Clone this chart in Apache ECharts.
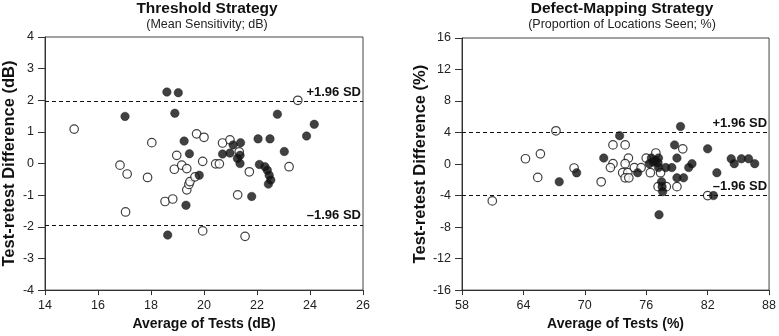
<!DOCTYPE html>
<html>
<head>
<meta charset="utf-8">
<script src="https://cdn.jsdelivr.net/npm/echarts@6/dist/echarts.min.js"></script>
<style>
  html, body { margin: 0; padding: 0; background: #fff; }
  #chart { width: 779px; height: 336px; }
</style>
</head>
<body>
<div id="chart"></div>
<script>
// Threshold strategy (dB): [average, difference]
const thresholdFilled = [
  [18.6, 2.26], [19.03, 2.24], [17.02, 1.49], [18.9, 1.59], [19.25, 0.71],
  [19.45, 0.31], [19.32, -1.32], [18.63, -2.26], [19.82, -0.37], [21.1, 0.59],
  [21.38, 0.66], [20.7, 0.30], [20.98, 0.33], [21.36, 0.26], [21.26, 0.16],
  [21.36, 0.0], [22.04, 0.78], [22.49, 0.78], [22.77, 1.56], [23.03, 0.38],
  [24.16, 1.24], [23.87, 0.87], [22.09, -0.03], [22.3, -0.10], [22.39, -0.21],
  [22.46, -0.37], [22.52, -0.52], [22.43, -0.65], [21.8, -1.04]
];
const thresholdOpen = [
  [15.1, 1.09], [16.83, -0.05], [17.1, -0.33], [17.87, -0.44], [17.04, -1.53],
  [18.53, -1.2], [18.82, -1.12], [18.03, 0.66], [18.97, 0.26], [19.72, 0.94],
  [20.0, 0.83], [18.88, -0.18], [19.16, -0.05], [19.35, -0.16], [19.35, -0.83],
  [19.43, -0.66], [19.47, -0.57], [19.66, -0.42], [19.95, 0.07], [19.95, -2.13],
  [20.44, -0.01], [20.58, -0.01], [20.7, 0.65], [20.98, 0.75], [21.33, 0.37],
  [21.71, -0.26], [21.27, -0.99], [21.55, -2.3], [23.21, -0.10], [23.54, 2.0]
];
const thresholdLimits = [1.96, -1.94];

// Defect-mapping strategy (%): [average, difference]
const defectFilled = [
  [67.5, -2.25], [69.2, -1.12], [79.35, 4.77], [73.4, 3.6], [78.77, 2.43],
  [82.0, 1.93], [71.85, 0.76], [76.5, 0.76], [77.2, 0.76], [79.0, 0.76],
  [84.3, 0.67], [84.6, 0.05], [85.3, 0.67], [86.0, 0.67], [86.6, 0.05],
  [75.16, -1.1], [76.3, 0.05], [76.7, 0.26], [76.9, 0.46], [77.16, 0.13],
  [77.2, -0.45], [77.9, -0.45], [78.5, -0.45], [77.5, -2.25], [77.55, -2.87],
  [77.6, -3.5], [77.25, -6.43], [79.0, -1.75], [79.65, -1.75], [80.15, -0.45],
  [80.47, 0.05], [82.9, -1.1], [82.57, -4.0]
];
const defectOpen = [
  [67.18, 4.22], [64.2, 0.67], [65.66, 1.3], [65.4, -1.7], [68.95, -0.5],
  [60.96, -4.68], [72.75, 2.43], [73.94, 2.43], [79.57, 1.93], [74.26, 0.76],
  [76.0, 0.76], [76.94, 1.4], [72.75, 0.05], [72.5, -0.45], [73.94, 0.05],
  [73.7, -1.1], [74.2, -1.1], [73.94, -1.75], [74.3, -1.75], [71.6, -2.25],
  [74.84, -0.45], [75.5, -0.45], [76.4, -1.1], [77.4, -1.1], [77.16, -2.87],
  [77.96, -2.87], [79.0, -2.87], [82.0, -4.0]
];
const defectLimits = [4.0, -4.0];

const FONT = "Liberation Sans, Arial, sans-serif";
const chart = echarts.init(document.getElementById("chart"));

function xAxis(grid, min, max, step, name) {
  return {
    gridIndex: grid, type: "value", min: min, max: max, interval: step,
    name: name, nameLocation: "middle", nameGap: 16,
    nameTextStyle: { fontFamily: FONT, fontSize: 14, fontWeight: "bold", color: "#111" },
    axisLine: { show: true, onZero: false, lineStyle: { color: "#333", width: 1 } },
    axisTick: { show: true, length: 5, lineStyle: { color: "#333" } },
    axisLabel: { fontFamily: FONT, fontSize: 12.5, color: "#222", margin: 9 },
    splitLine: { show: false }
  };
}
function yAxis(grid, min, max, step, name) {
  return {
    gridIndex: grid, type: "value", min: min, max: max, interval: step,
    name: name, nameLocation: "middle", nameGap: 27,
    nameTextStyle: { fontFamily: FONT, fontSize: 16.5, fontWeight: "bold", color: "#111" },
    axisLine: { show: true, onZero: false, lineStyle: { color: "#333", width: 1 } },
    axisTick: { show: true, length: 7, lineStyle: { color: "#333" } },
    axisLabel: { fontFamily: FONT, fontSize: 12.5, color: "#222", margin: 11 },
    splitLine: { show: false }
  };
}
function limitLines(vals) {
  return {
    silent: true, symbol: "none",
    lineStyle: { color: "#111", type: [4, 3], width: 1.2 },
    label: {
      position: "insideEndTop", fontFamily: FONT, fontSize: 13,
      fontWeight: "bold", color: "#111", distance: [2, 3],
      formatter: (p) => (p.value > 0 ? "+1.96 SD" : "\u20131.96 SD")
    },
    data: vals.map((v) => ({ yAxis: v }))
  };
}
function dots(xi, data, filled, lines) {
  const s = {
    type: "scatter", xAxisIndex: xi, yAxisIndex: xi, data: data,
    symbol: "circle", symbolSize: 8.5, silent: true,
    itemStyle: filled
      ? { color: "#111", borderColor: "#111", borderWidth: 0.5 }
      : { color: "#fff", borderColor: "#111", borderWidth: 1.2 }
  };
  if (lines) s.markLine = limitLines(lines);
  return s;
}

const options = {
  animation: false,
  title: [
    {
      text: "Threshold Strategy", subtext: "(Mean Sensitivity; dB)",
      left: 202, top: -4, textAlign: "center", itemGap: 1,
      textStyle: { fontFamily: FONT, fontSize: 15.5, fontWeight: "bold", color: "#111" },
      subtextStyle: { fontFamily: FONT, fontSize: 12.5, color: "#222" }
    },
    {
      text: "Defect-Mapping Strategy", subtext: "(Proportion of Locations Seen; %)",
      left: 617, top: -4, textAlign: "center", itemGap: 1,
      textStyle: { fontFamily: FONT, fontSize: 15.5, fontWeight: "bold", color: "#111" },
      subtextStyle: { fontFamily: FONT, fontSize: 12.5, color: "#222" }
    }
  ],
  grid: [
    { left: 45, right: 416, top: 37, bottom: 43, show: true, borderColor: "#444", borderWidth: 1 },
    { left: 462, right: 7, top: 38, bottom: 43, show: true, borderColor: "#444", borderWidth: 1 }
  ],
  xAxis: [
    xAxis(0, 14, 26, 2, "Average of Tests (dB)"),
    xAxis(1, 58, 88, 6, "Average of Tests (%)")
  ],
  yAxis: [
    yAxis(0, -4, 4, 1, "Test-retest Difference (dB)"),
    yAxis(1, -16, 16, 4, "Test-retest Difference (%)")
  ],
  series: [
    dots(0, thresholdOpen, false, thresholdLimits),
    dots(0, thresholdFilled, true),
    dots(1, defectOpen, false, defectLimits),
    dots(1, defectFilled, true)
  ]
};

chart.setOption(options, true);
</script>
</body>
</html>
